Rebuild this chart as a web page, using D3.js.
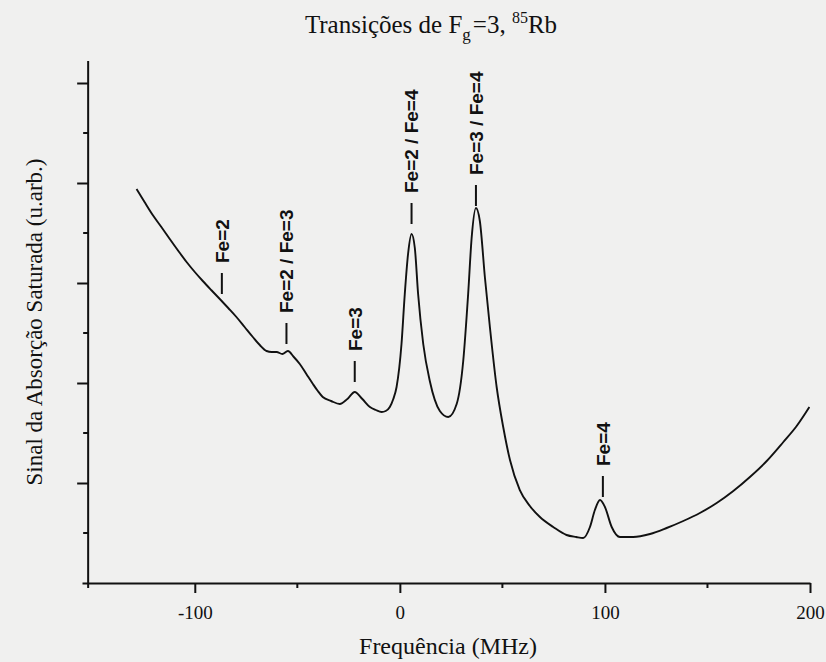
<!DOCTYPE html>
<html>
<head>
<meta charset="utf-8">
<script src="https://cdn.jsdelivr.net/npm/d3@7"></script>
<style>
  html, body { margin: 0; padding: 0; background: #f0f0ef; }
  svg { display: block; }
</style>
</head>
<body>
<svg id="chart" width="826" height="662"></svg>
<script>
// ---- data ----
const freqMHz = [-128.4, -124.5, -120.5, -116.3, -112.2, -108.0, -104.0, -100.0, -96.1, -92.0, -87.8, -83.7, -79.7, -75.7, -71.7, -68.3, -65.0, -62.5, -60.1, -57.3, -54.6, -51.7, -48.8, -45.6, -42.4, -40.0, -37.6, -33.5, -29.3, -25.6, -22.0, -18.3, -14.6, -11.7, -8.9, -6.9, -4.9, -3.2, -1.6, 0.8, 2.4, 4.0, 5.7, 7.3, 8.9, 11.4, 14.6, 19.5, 23.6, 27.7, 30.9, 33.3, 35.0, 37.1, 39.0, 41.5, 43.9, 47.2, 50.4, 53.7, 58.5, 63.4, 68.3, 74.8, 81.3, 86.0, 89.4, 92.7, 95.1, 97.6, 100.0, 103.3, 107.3, 113.8, 122.0, 130.1, 138.2, 146.3, 154.5, 162.6, 170.7, 178.9, 187.0, 193.5, 199.7];
const signal  = [3.94, 3.81, 3.68, 3.56, 3.44, 3.32, 3.21, 3.11, 3.02, 2.93, 2.84, 2.75, 2.66, 2.56, 2.46, 2.38, 2.32, 2.31, 2.31, 2.29, 2.32, 2.26, 2.19, 2.09, 1.99, 1.92, 1.86, 1.82, 1.79, 1.84, 1.91, 1.84, 1.76, 1.73, 1.71, 1.72, 1.76, 1.84, 1.96, 2.39, 2.89, 3.29, 3.49, 3.35, 2.89, 2.39, 2.02, 1.72, 1.66, 1.79, 2.22, 2.89, 3.45, 3.75, 3.62, 3.05, 2.56, 1.96, 1.56, 1.23, 0.93, 0.77, 0.66, 0.56, 0.48, 0.46, 0.45, 0.56, 0.73, 0.83, 0.76, 0.56, 0.46, 0.46, 0.49, 0.55, 0.62, 0.70, 0.80, 0.92, 1.06, 1.22, 1.41, 1.57, 1.76];

const peakLabels = ["Fe=2", "Fe=2 / Fe=3", "Fe=3", "Fe=2 / Fe=4", "Fe=3 / Fe=4", "Fe=4"];
const peakFreq   = [-86.8, -55.3, -22.0, 5.7, 37.1, 99.0];
const peakMarkY  = [2.89, 2.39, 2.01, 3.59, 3.77, 0.86];

const xTicks      = [-100, 0, 100, 200];
const xMinorTicks = [-50, 50, 150];
const yTicks      = [1, 2, 3, 4, 5];
const yMinorTicks = [0.5, 1.5, 2.5, 3.5, 4.5];

const titleMain = "Transições de F";
const titleSub  = "g";
const titleMid  = "=3, ";
const titleSup  = "85";
const titleEnd  = "Rb";
const xTitle = "Frequência (MHz)";
const yTitle = "Sinal da Absorção Saturada (u.arb.)";

// ---- drawing ----
const svg = d3.select("#chart");
const serif = "'Liberation Serif', 'Times New Roman', serif";

const x = d3.scaleLinear().domain([-155, 200]).range([82, 810]);
const y = d3.scaleLinear().domain([0, 5.22]).range([583, 61]);
const yAxisAt = -152;

const ink = "#111";

// x axis
const gx = svg.append("g").attr("transform", `translate(0,${y(0)})`);
gx.call(d3.axisBottom(x).tickValues(xTicks).tickSize(10).tickSizeOuter(0).tickFormat(d => String(d)));
gx.select(".domain").attr("stroke", ink).attr("stroke-width", 2);
gx.selectAll(".tick line").attr("stroke", ink).attr("stroke-width", 2);
gx.selectAll(".tick text").attr("font-family", serif).attr("font-size", 19).attr("fill", ink).attr("dy", "1.2em");
gx.selectAll("line.minor").data(xMinorTicks).enter().append("line").attr("class", "minor")
  .attr("x1", d => x(d)).attr("x2", d => x(d)).attr("y1", 0).attr("y2", 5)
  .attr("stroke", ink).attr("stroke-width", 2);

// y axis
const gy = svg.append("g").attr("transform", `translate(${x(yAxisAt)},0)`);
gy.call(d3.axisLeft(y).tickValues(yTicks).tickSize(11).tickSizeOuter(0).tickFormat(""));
gy.select(".domain").attr("stroke", ink).attr("stroke-width", 2)
  .attr("d", `M0,${y(5.22)}V${y(0) + 5}`);
gy.selectAll(".tick line").attr("stroke", ink).attr("stroke-width", 2);
gy.selectAll("line.minor").data(yMinorTicks).enter().append("line").attr("class", "minor")
  .attr("x1", -5).attr("x2", 0).attr("y1", d => y(d)).attr("y2", d => y(d))
  .attr("stroke", ink).attr("stroke-width", 2);

// curve
const pts = freqMHz.map((f, i) => [f, signal[i]]);
const line = d3.line().x(d => x(d[0])).y(d => y(d[1])).curve(d3.curveMonotoneX);
svg.append("path").datum(pts).attr("d", line)
  .attr("fill", "none").attr("stroke", ink).attr("stroke-width", 1.9).attr("stroke-linejoin", "round");

// peak labels
const lab = svg.append("g");
peakLabels.forEach((t, i) => {
  const px = x(peakFreq[i]);
  const py = y(peakMarkY[i]);
  lab.append("line").attr("x1", px).attr("x2", px).attr("y1", py).attr("y2", py - 21)
    .attr("stroke", ink).attr("stroke-width", 2);
  lab.append("text")
    .attr("transform", `translate(${px},${py - 31}) rotate(-90)`)
    .attr("dy", "0.36em")
    .attr("font-family", "'Liberation Sans Narrow', 'Liberation Sans', Arial, sans-serif")
    .attr("font-weight", "bold").attr("font-size", 19).attr("fill", ink)
    .text(t);
});

// title
const title = svg.append("text").attr("x", 431).attr("y", 33).attr("text-anchor", "middle")
  .attr("font-family", serif).attr("font-size", 25).attr("fill", ink);
title.append("tspan").text(titleMain);
title.append("tspan").attr("font-size", 17).attr("dy", 7).text(titleSub);
title.append("tspan").attr("dy", -7).attr("dx", 2).text(titleMid);
title.append("tspan").attr("font-size", 16).attr("dy", -10).text(titleSup);
title.append("tspan").attr("dy", 10).text(titleEnd);

// axis titles
svg.append("text").attr("x", 448).attr("y", 654).attr("text-anchor", "middle")
  .attr("font-family", serif).attr("font-size", 24).attr("fill", ink).text(xTitle);
svg.append("text").attr("transform", "translate(42,322) rotate(-90)").attr("text-anchor", "middle")
  .attr("font-family", serif).attr("font-size", 23).attr("fill", ink).text(yTitle);
</script>
</body>
</html>
